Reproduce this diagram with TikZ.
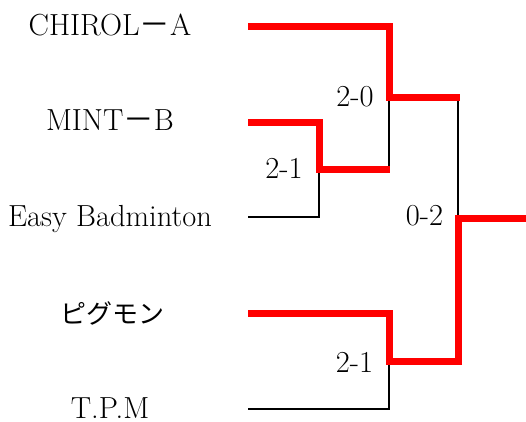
\documentclass[tikz,border=0pt]{standalone}
\usepackage{fontspec}
\newfontfamily\cjk{Noto Sans CJK JP}
\begin{document}
\begin{tikzpicture}[x=1bp,y=-1bp,
  every node/.style={inner sep=0pt,outer sep=0pt,font=\fontsize{30.5bp}{33bp}\selectfont},
  team/.style={anchor=base},
  score/.style={anchor=base},
  loser/.style={draw=black,line width=2.8bp,line join=miter},
  winner/.style={draw=red,line width=7bp,line join=miter}]
\useasboundingbox (0,0) rectangle (526,421);
% team names
\node[team] (tA) at (110,35) {CHIROL{\cjk －}A};
\node[team] (tB) at (110,130.5) {MINT{\cjk －}B};
\node[team] (tC) at (110,226.5) {Easy Badminton};
\node[anchor=center,font=\fontsize{26bp}{30bp}\selectfont] (tD) at (112,313) {\cjk ピグモン};
\node[team] (tE) at (110,418) {T.P.M};
% scores
\node[score] (s1) at (284,178) {2-1};
\node[score] (s2) at (355,106) {2-0};
\node[score] (s3) at (424.5,225) {0-2};
\node[score] (s4) at (354.5,372) {2-1};
% bracket points
\coordinate (pA) at (248,26);
\coordinate (pB) at (248,122);
\coordinate (pC) at (248,217);
\coordinate (pD) at (248,313);
\coordinate (pE) at (248,409);
\coordinate (m1) at (319,169);
\coordinate (m2) at (389,97);
\coordinate (m3) at (389,361);
\coordinate (f) at (458,218);
\coordinate (end) at (526,218);
% losers' lines
\draw[loser] (pC) -| (m1);
\draw[loser] (m1 -| m2) -- (m2);
\draw[loser] (pE) -| (m3);
\draw[loser] (m2 -| f) -- (f);
% winners' lines
\draw[winner] (pA) -| (m2) -- ([xshift=1.5bp]m2 -| f);
\draw[winner] (pB) -| (m1) -- ([xshift=0.5bp]m1 -| m2);
\draw[winner] (pD) -| (m3) -- (m3 -| f) -- (f) -- (end);
\end{tikzpicture}
\end{document}
